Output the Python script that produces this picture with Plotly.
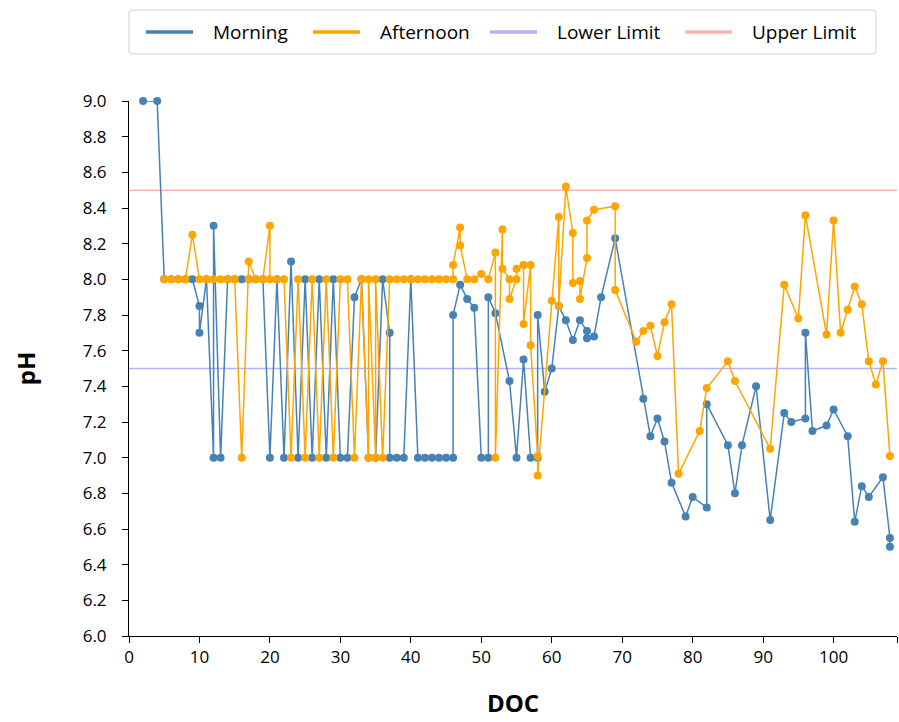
import plotly.graph_objects as go

# ---------------- data ----------------
morning_doc = [2, 4, 5, 6, 7, 8, 9, 10, 10, 11, 12, 12, 13, 14, 15, 16, 17, 18, 19, 20,
               21, 22, 23, 24, 25, 26, 27, 28, 29, 30, 31, 32, 33, 34, 35, 36, 37, 37, 38, 39,
               40, 41, 42, 43, 44, 45, 46, 46, 47, 48, 49, 50, 51, 51, 52, 54, 55, 56, 57, 58,
               58, 59, 60, 61, 62, 63, 64, 65, 65, 66, 67, 69, 73, 74, 75, 76, 77, 79, 80, 82,
               82, 85, 86, 87, 89, 91, 93, 94, 96, 96, 97, 99, 100, 102, 103, 104, 105, 107, 108, 108]
morning_ph = [9.0, 9.0, 8.0, 8.0, 8.0, 8.0, 8.0, 7.85, 7.7, 8.0, 7.0, 8.3, 7.0, 8.0, 8.0, 8.0, 8.0, 8.0, 8.0, 7.0,
              8.0, 7.0, 8.1, 7.0, 8.0, 7.0, 8.0, 7.0, 8.0, 7.0, 7.0, 7.9, 8.0, 7.0, 7.0, 8.0, 7.7, 7.0, 7.0, 7.0,
              8.0, 7.0, 7.0, 7.0, 7.0, 7.0, 7.0, 7.8, 7.97, 7.89, 7.84, 7.0, 7.0, 7.9, 7.81, 7.43, 7.0, 7.55, 7.0, 7.0,
              7.8, 7.37, 7.5, 7.85, 7.77, 7.66, 7.77, 7.71, 7.67, 7.68, 7.9, 8.23, 7.33, 7.12, 7.22, 7.09, 6.86, 6.67, 6.78, 6.72,
              7.3, 7.07, 6.8, 7.07, 7.4, 6.65, 7.25, 7.2, 7.22, 7.7, 7.15, 7.18, 7.27, 7.12, 6.64, 6.84, 6.78, 6.89, 6.55, 6.5]

afternoon_doc = [5, 6, 7, 8, 9, 10, 11, 12, 13, 14, 15, 16, 17, 17, 18, 19, 20, 20, 21, 22,
                 23, 24, 25, 26, 27, 28, 29, 30, 31, 32, 33, 34, 34, 35, 35, 36, 37, 38, 39, 40,
                 41, 42, 43, 44, 45, 46, 46, 47, 47, 48, 49, 50, 51, 52, 52, 53, 53, 54, 54, 55,
                 55, 56, 56, 57, 57, 58, 58, 60, 61, 61, 62, 63, 63, 64, 64, 65, 65, 66, 69, 69,
                 72, 73, 74, 75, 76, 77, 78, 81, 82, 85, 86, 91, 93, 95, 96, 99, 100, 101, 102, 103,
                 104, 105, 106, 107, 108]
afternoon_ph = [8.0, 8.0, 8.0, 8.0, 8.25, 8.0, 8.0, 8.0, 8.0, 8.0, 8.0, 7.0, 8.0, 8.1, 8.0, 8.0, 8.3, 8.0, 8.0, 8.0,
                7.0, 8.0, 7.0, 8.0, 7.0, 8.0, 7.0, 8.0, 8.0, 7.0, 8.0, 7.0, 8.0, 7.0, 8.0, 7.0, 8.0, 8.0, 8.0, 8.0,
                8.0, 8.0, 8.0, 8.0, 8.0, 8.0, 8.08, 8.29, 8.19, 8.0, 8.0, 8.03, 8.0, 8.15, 7.0, 8.28, 8.06, 8.0, 7.89, 8.0,
                8.06, 8.08, 7.75, 8.08, 7.63, 7.01, 6.9, 7.88, 8.35, 7.85, 8.52, 8.26, 7.98, 7.99, 7.89, 8.12, 8.33, 8.39, 8.41, 7.94,
                7.65, 7.71, 7.74, 7.57, 7.76, 7.86, 6.91, 7.15, 7.39, 7.54, 7.43, 7.05, 7.97, 7.78, 8.36, 7.69, 8.33, 7.7, 7.83, 7.96,
                7.86, 7.54, 7.41, 7.54, 7.01]

lower_limit = 7.5
upper_limit = 8.5
x_range = [0, 109]
y_range = [6.0, 9.0]
x_ticks = [0, 10, 20, 30, 40, 50, 60, 70, 80, 90, 100]

series_names = ["Morning", "Afternoon", "Lower Limit", "Upper Limit"]
series_colors = ["#4682b4", "#ffa500", "rgba(0,0,255,0.3)", "rgba(255,0,0,0.3)"]

# ---------------- layout geometry (pixels) ----------------
W, H = 899, 722
ML, MR, MT, MB = 129, 2, 101, 86
PW, PH = W - ML - MR, H - MT - MB
FONT = "Open Sans"


def px_x(px):
    return (px - ML) / PW


def px_y(py):
    return (H - MB - py) / PH


fig = go.Figure()

# limit lines (behind data)
for val, name, col in [(lower_limit, series_names[2], series_colors[2]),
                       (upper_limit, series_names[3], series_colors[3])]:
    fig.add_trace(go.Scatter(
        x=x_range, y=[val, val], name=name, mode="lines",
        line=dict(color=col, width=1.5), hoverinfo="skip", showlegend=False,
    ))

fig.add_trace(go.Scatter(
    x=morning_doc, y=morning_ph, name=series_names[0], mode="lines+markers",
    line=dict(color=series_colors[0], width=1.5),
    marker=dict(color=series_colors[0], size=8),
    cliponaxis=False, showlegend=False,
))
fig.add_trace(go.Scatter(
    x=afternoon_doc, y=afternoon_ph, name=series_names[1], mode="lines+markers",
    line=dict(color=series_colors[1], width=1.5),
    marker=dict(color=series_colors[1], size=8),
    cliponaxis=False, showlegend=False,
))

# ---------------- legend (drawn) ----------------
box_l, box_r, box_t, box_b, rad = 129, 876, 10, 54, 4
rx, ry = rad / PW, rad / PH
x0, x1, y0, y1 = px_x(box_l), px_x(box_r), px_y(box_b), px_y(box_t)
path = (f"M {x0+rx},{y1} L {x1-rx},{y1} Q {x1},{y1} {x1},{y1-ry} "
        f"L {x1},{y0+ry} Q {x1},{y0} {x1-rx},{y0} L {x0+rx},{y0} "
        f"Q {x0},{y0} {x0},{y0+ry} L {x0},{y1-ry} Q {x0},{y1} {x0+rx},{y1} Z")
shapes = [dict(type="path", path=path, xref="paper", yref="paper",
               line=dict(color="#e0e0e0", width=1.5), fillcolor="white")]
annotations = []
leg_y = 32
line_starts = [146, 313, 490, 685]
for name, col, ls in zip(series_names, series_colors, line_starts):
    shapes.append(dict(type="line", xref="paper", yref="paper",
                       x0=px_x(ls), x1=px_x(ls + 47), y0=px_y(leg_y), y1=px_y(leg_y),
                       line=dict(color=col, width=3.5)))
    annotations.append(dict(text=name, xref="paper", yref="paper",
                            x=px_x(ls + 65), y=px_y(leg_y), xanchor="left", yanchor="middle",
                            showarrow=False, font=dict(family=FONT, size=19, color="black")))

fig.update_layout(
    width=W, height=H,
    margin=dict(l=ML, r=MR, t=MT, b=MB, autoexpand=False),
    paper_bgcolor="white", plot_bgcolor="white",
    font=dict(family=FONT, size=17, color="black"),
    showlegend=False,
    shapes=shapes, annotations=annotations,
    xaxis=dict(
        range=x_range, tickvals=x_ticks + [x_range[1]],
        ticktext=[str(v) for v in x_ticks] + [""],
        showline=True, linecolor="black", linewidth=1,
        ticks="outside", ticklen=6, tickcolor="black",
        showgrid=False, zeroline=False, automargin=False,
        tickfont=dict(family=FONT, size=17),
        title=dict(text="<b>DOC</b>", font=dict(family=FONT, size=24), standoff=27),
    ),
    yaxis=dict(
        range=y_range, dtick=0.2, tick0=6.0, tickformat=".1f",
        showline=True, linecolor="black", linewidth=1,
        ticks="outside", ticklen=6, tickcolor="black",
        showgrid=False, zeroline=False, automargin=False,
        tickfont=dict(family=FONT, size=17), ticklabelstandoff=12,
        title=dict(text="<b>pH</b>", font=dict(family=FONT, size=24), standoff=40),
    ),
)

fig.write_html(
    "out.html",
    config={"displayModeBar": False},
    post_script="document.body.style.margin='0';document.body.style.overflow='hidden';",
)
